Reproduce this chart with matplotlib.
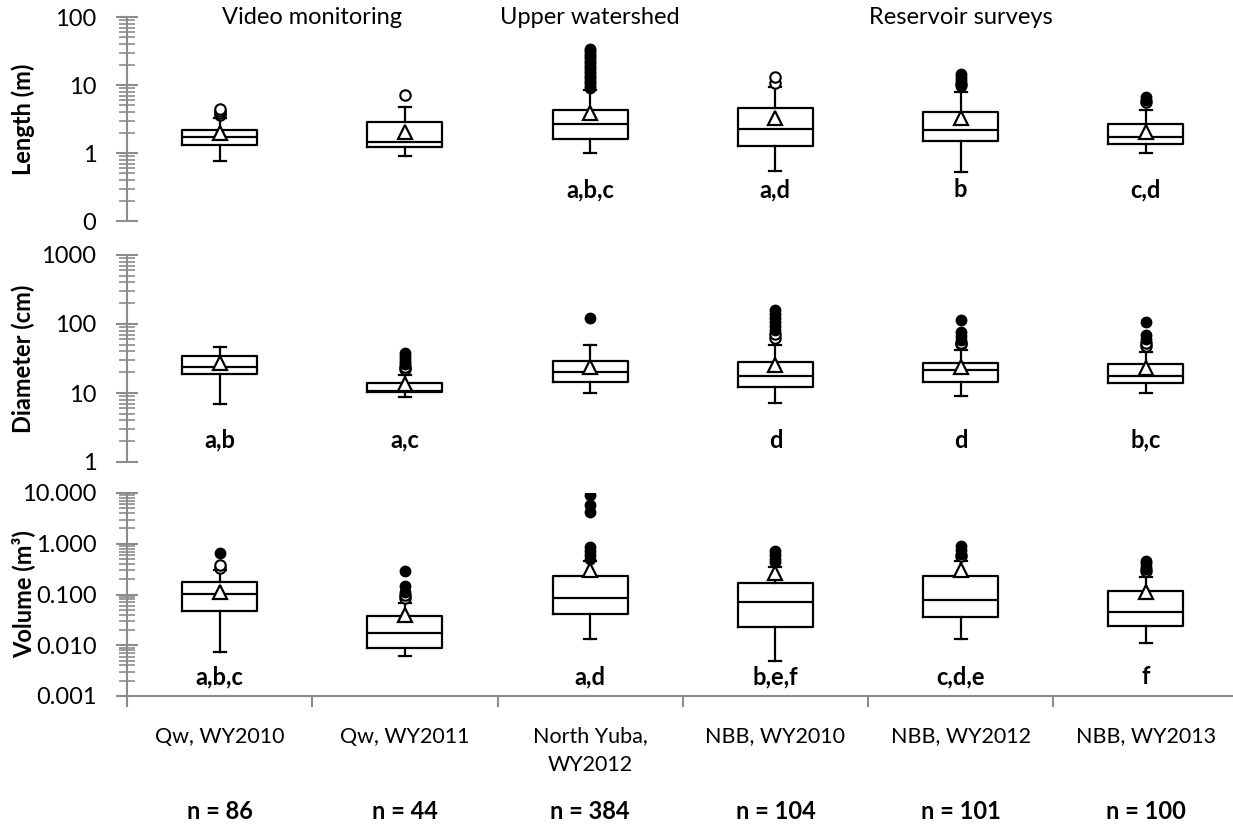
# wood piece size distributions - length, diameter, volume boxplots per site / year
import numpy as np
import matplotlib
matplotlib.use('Agg')
import matplotlib.pyplot as plt
from matplotlib.ticker import LogLocator, FuncFormatter, NullFormatter

plt.rcParams['font.family'] = ['Lato', 'DejaVu Sans']

categories = ['Qw, WY2010', 'Qw, WY2011', 'North Yuba,\nWY2012', 'NBB, WY2010', 'NBB, WY2012', 'NBB, WY2013']
n_counts = [86, 44, 384, 104, 101, 100]
groups = ['Video monitoring', 'Upper watershed', 'Reservoir surveys']
group_x = [1.5, 3, 5]

## Length (m)
length_q1 = [1.31, 1.22, 1.61, 1.27, 1.50, 1.36]
length_med = [1.72, 1.45, 2.67, 2.25, 2.18, 1.72]
length_q3 = [2.18, 2.86, 4.29, 4.59, 4.00, 2.67]
length_lo = [0.76, 0.90, 1.00, 0.54, 0.53, 1.00]
length_hi = [3.27, 4.75, 8.4, 9.3, 7.9, 4.29]
length_mean = [1.97, 2.04, 3.87, 3.27, 3.27, 2.04]
length_open = [[3.6, 3.9, 4.2, 4.5], [7.1], [], [10.7, 13.1], [10.3], [5.6]]
length_filled = [[], [], [9.0, 9.8, 10.7, 11.6, 12.6, 13.7, 14.9, 16.2, 17.6, 19.1, 20.8, 22.6, 24.6, 26.7, 29.0, 31.6, 34.0],
                 [], [9.7, 11.9, 13.1, 14.5], [6.0, 6.7]]
length_letters = ['', '', 'a,b,c', 'a,d', 'b', 'c,d']

## Diameter (cm)
diam_q1 = [18.7, 10.2, 14.6, 12.3, 14.6, 13.8]
diam_med = [24.1, 10.8, 19.9, 17.8, 21.5, 17.6]
diam_q3 = [34.7, 13.8, 29.1, 28.4, 27.5, 26.0]
diam_lo = [6.9, 8.7, 9.9, 7.1, 9.0, 10.0]
diam_hi = [46.9, 18.2, 49.6, 49.6, 42.0, 39.7]
diam_mean = [27.2, 13.5, 24.1, 25.5, 24.1, 22.8]
diam_open = [[], [22, 24], [], [62.7, 71.6], [51, 53], [48, 53]]
diam_filled = [[], [26, 28, 31, 34, 38], [121], [82, 93.5, 107, 122, 140, 160], [58.7, 67, 76.6, 114], [61, 69, 108]]
diam_letters = ['a,b', 'a,c', '', 'd', 'd', 'b,c']

## Volume (m3)
vol_q1 = [0.048, 0.0090, 0.0407, 0.0226, 0.0366, 0.0243]
vol_med = [0.101, 0.0177, 0.0865, 0.0722, 0.078, 0.0458]
vol_q3 = [0.179, 0.0377, 0.232, 0.166, 0.232, 0.119]
vol_lo = [0.0075, 0.0062, 0.0131, 0.0049, 0.0131, 0.0112]
vol_hi = [0.304, 0.067, 0.45, 0.353, 0.45, 0.224]
vol_mean = [0.113, 0.0394, 0.304, 0.262, 0.304, 0.113]
vol_open = [[0.333, 0.381], [0.086, 0.100], [], [], [0.57], [0.285]]
vol_filled = [[0.667], [0.114, 0.147, 0.29], [0.5, 0.6, 0.72, 0.863, 4.3, 5.8, 9.1],
              [0.44, 0.5, 0.6, 0.72], [0.63, 0.75, 0.9], [0.32, 0.35, 0.41, 0.457]]
vol_letters = ['a,b,c', '', 'a,d', 'b,e,f', 'c,d,e', 'f']

gray = '#8c8c8c'
FS = 17

fig = plt.figure(figsize=(12.33, 8.24), dpi=100)
left = 127 / 1233.
width = 1111.5 / 1233.
ax1 = fig.add_axes([left, 1 - 221 / 824., width, 204 / 824.])
ax2 = fig.add_axes([left, 1 - 462 / 824., width, 207 / 824.])
ax3 = fig.add_axes([left, 1 - 696 / 824., width, 203 / 824.])

panels = [
    (ax1, length_q1, length_med, length_q3, length_lo, length_hi, length_mean, length_open, length_filled,
     length_letters, (0.1, 100), 0.29, '{:.0f}', 'Length (m)'),
    (ax2, diam_q1, diam_med, diam_q3, diam_lo, diam_hi, diam_mean, diam_open, diam_filled,
     diam_letters, (1, 1000), 2.08, '{:.0f}', 'Diameter (cm)'),
    (ax3, vol_q1, vol_med, vol_q3, vol_lo, vol_hi, vol_mean, vol_open, vol_filled,
     vol_letters, (0.001, 10), 0.00237, '{:.3f}', 'Volume (m\u00b3)'),
]

pos = np.arange(1, 7)
for ax, q1, med, q3, lo, hi, mean, op, fil, letters, ylim, ylet, fmt, ylab in panels:
    ax.set_yscale('log')
    stats = []
    for i in range(6):
        stats.append({'q1': q1[i], 'med': med[i], 'q3': q3[i], 'whislo': lo[i], 'whishi': hi[i],
                      'mean': mean[i], 'fliers': []})
    ax.bxp(stats, positions=pos, widths=0.405, capwidths=0.065, showmeans=True, showfliers=False,
           boxprops=dict(color='black', linewidth=1.6),
           medianprops=dict(color='black', linewidth=1.6),
           whiskerprops=dict(color='black', linewidth=1.6),
           capprops=dict(color='black', linewidth=1.6),
           meanprops=dict(marker='^', markersize=9.5, markerfacecolor='white',
                          markeredgecolor='black', markeredgewidth=1.6))
    for i in range(6):
        if op[i]:
            ax.plot([pos[i]] * len(op[i]), op[i], 'o', ms=7.5, mfc='white', mec='black', mew=1.5, zorder=4)
        if fil[i]:
            ax.plot([pos[i]] * len(fil[i]), fil[i], 'o', ms=7.5, mfc='black', mec='black', mew=1.0, zorder=5)
        if letters[i]:
            ax.text(pos[i], ylet, letters[i], ha='center', va='center', fontsize=FS, fontweight='bold')

    ax.set_xlim(0.5, 6.5)
    ax.set_ylim(*ylim)
    ax.yaxis.set_major_locator(LogLocator(base=10, numticks=10))
    ax.yaxis.set_minor_locator(LogLocator(base=10, subs=np.arange(2, 10), numticks=20))
    ax.yaxis.set_major_formatter(FuncFormatter(lambda v, p, f=fmt: f.format(v)))
    ax.yaxis.set_minor_formatter(NullFormatter())
    ax.tick_params(axis='y', which='major', direction='inout', length=16, width=1.5, color=gray,
                   labelsize=FS, pad=14)
    ax.tick_params(axis='y', which='minor', direction='inout', length=11, width=1.2, color=gray)
    for s in ['top', 'right', 'bottom']:
        ax.spines[s].set_visible(False)
    ax.spines['left'].set_color(gray)
    ax.spines['left'].set_linewidth(1.5)
    ax.spines['left'].set_zorder(0)
    ax.set_ylabel(ylab, fontsize=FS, fontweight='bold', va='center')
    ax.yaxis.set_label_coords(-0.093, 0.5)
    ax.patch.set_visible(False)
    if ax is not ax3:
        ax.set_xticks([])

# group headers
for gx, g in zip(group_x, groups):
    ax1.text(gx, 100, g, ha='center', va='center', fontsize=FS)

# bottom axis with category labels
ax3.spines['bottom'].set_visible(True)
ax3.spines['bottom'].set_color(gray)
ax3.spines['bottom'].set_linewidth(1.5)
ax3.set_xticks(np.arange(0.5, 7, 1))
ax3.set_xticklabels([])
ax3.set_xticks(pos, categories, minor=True)
ax3.tick_params(axis='x', which='major', direction='out', length=8, width=1.5, color=gray)
ax3.tick_params(axis='x', which='minor', length=0, labelsize=15.5, pad=22)
for lab in ax3.get_xticklabels(minor=True):
    lab.set_linespacing(1.55)

for i in range(6):
    ax3.text(pos[i], -0.571, 'n = ' + str(n_counts[i]), transform=ax3.get_xaxis_transform(),
             ha='center', va='center', fontsize=FS, fontweight='bold')

fig.savefig('out.png', dpi=100)
